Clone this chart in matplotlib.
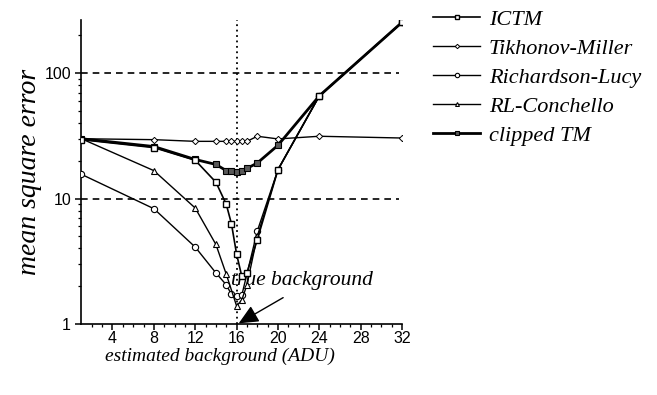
import numpy as np
import matplotlib
matplotlib.use("Agg")
import matplotlib.pyplot as plt
from matplotlib.ticker import FixedLocator, NullFormatter

# estimated background (ADU) vs mean square error
ictm_x = [1, 8, 12, 14, 15, 15.5, 16, 16.5, 17, 18, 20, 24, 32]
ictm_y = [29.5, 25.5, 20.2, 13.5, 9.0, 6.3, 3.6, 2.4, 2.55, 4.7, 17, 66, 255]

tm_x = [1, 8, 12, 14, 15, 15.5, 16, 16.5, 17, 18, 20, 24, 32]
tm_y = [30, 29.5, 28.6, 28.6, 28.6, 28.6, 28.6, 28.6, 28.6, 31.4, 29.9, 31.4, 30.4]

rl_x = [1, 8, 12, 14, 15, 15.5, 16, 16.5, 18, 20, 24, 32]
rl_y = [15.6, 8.3, 4.1, 2.55, 2.05, 1.72, 1.66, 1.69, 5.5, 17, 66, 255]

rlc_x = [1, 8, 12, 14, 15, 16, 16.5, 17, 18, 20, 24, 32]
rlc_y = [30, 16.7, 8.4, 4.3, 2.49, 1.39, 1.55, 2.05, 5.0, 17, 66, 255]

ctm_x = [1, 8, 12, 14, 15, 15.5, 16, 16.5, 17, 18, 20, 24, 32]
ctm_y = [30, 26, 20.5, 18.7, 16.7, 16.7, 16.3, 16.7, 17.4, 19.2, 26.6, 66, 255]

true_bg = 16

serif = ["Liberation Serif", "DejaVu Serif"]
sans = ["Liberation Sans", "DejaVu Sans"]

fig = plt.figure(figsize=(6.57, 3.95), dpi=100)
ax = fig.add_axes([0.124, 0.18, 0.488, 0.769])

ax.axhline(10, xmin=0, xmax=0.99, color="black", lw=1.2, ls=(0, (4, 3)), zorder=1)
ax.axhline(100, xmin=0, xmax=0.99, color="black", lw=1.2, ls=(0, (4, 3)), zorder=1)
ax.axvline(true_bg, color="black", lw=1.3, ls=(0, (1, 2)), zorder=1)

ax.plot(ctm_x, ctm_y, color="black", lw=2.0, marker="s", ms=4,
        mfc="0.35", mec="black", mew=0.8, label="clipped TM", zorder=3)
ax.plot(tm_x, tm_y, color="black", lw=1.0, marker="D", ms=3.2,
        mfc="white", mec="black", mew=0.7, label="Tikhonov-Miller", zorder=3)
ax.plot(rl_x, rl_y, color="black", lw=1.0, marker="o", ms=4.5,
        mfc="white", mec="black", mew=0.8, label="Richardson-Lucy", zorder=4)
ax.plot(rlc_x, rlc_y, color="black", lw=1.0, marker="^", ms=4,
        mfc="white", mec="black", mew=0.8, label="RL-Conchello", zorder=4)
ax.plot(ictm_x, ictm_y, color="black", lw=1.2, marker="s", ms=5,
        mfc="white", mec="black", mew=1.0, label="ICTM", zorder=5)

ax.set_yscale("log")
ax.set_xlim(1, 32)
ax.set_ylim(1, 265)

ax.xaxis.set_major_locator(FixedLocator([4, 8, 12, 16, 20, 24, 28, 32]))
ax.xaxis.set_minor_locator(FixedLocator(np.arange(2, 33, 1)))
ax.yaxis.set_major_locator(FixedLocator([1, 10, 100]))
ax.yaxis.set_minor_locator(FixedLocator(
    [m * 10 ** e for e in range(0, 3) for m in range(2, 10)]))
ax.yaxis.set_minor_formatter(NullFormatter())
ax.set_yticklabels(["1", "10", "100"])

for s in ["top", "right"]:
    ax.spines[s].set_visible(False)
ax.spines["left"].set_linewidth(1.2)
ax.spines["bottom"].set_linewidth(1.2)
ax.tick_params(which="major", direction="out", length=4, width=1.1,
               labelsize=11.5)
ax.tick_params(which="minor", direction="out", length=2.5, width=0.9)
ax.tick_params(axis="x", pad=1)
for lab in ax.get_xticklabels() + ax.get_yticklabels():
    lab.set_fontfamily(sans)

ax.set_xlabel("estimated background (ADU)", fontsize=14, style="italic",
              family=serif)
ax.xaxis.set_label_coords(0.433, -0.078)
ax.set_ylabel("mean square error", fontsize=20, style="italic",
              family=serif, labelpad=2)

ax.text(22.3, 2.2, "true background", fontsize=15.5, style="italic",
        family=serif, ha="center", va="center")
ax.annotate("", xy=(16.2, 1.01), xytext=(20.5, 1.62),
            arrowprops=dict(arrowstyle="-|>,head_length=1.2,head_width=0.55",
                            color="black", lw=1.0, shrinkA=0, shrinkB=0))

handles, labels = ax.get_legend_handles_labels()
order = ["ICTM", "Tikhonov-Miller", "Richardson-Lucy", "RL-Conchello", "clipped TM"]
hmap = dict(zip(labels, handles))
leg = ax.legend([hmap[k] for k in order], order, loc="upper left",
                bbox_to_anchor=(1.07, 1.065), frameon=False,
                prop={"family": serif, "style": "italic", "size": 16},
                handlelength=2.1, handletextpad=0.4, labelspacing=0.38,
                markerscale=0.7, borderaxespad=0)

plt.savefig("out.png", dpi=100)
